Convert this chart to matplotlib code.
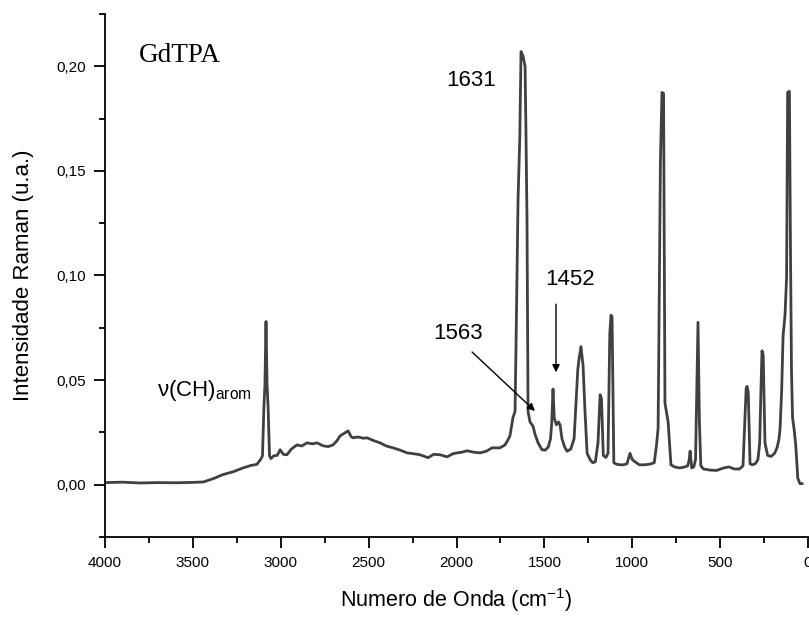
import matplotlib
matplotlib.use("Agg")
import matplotlib.pyplot as plt
from matplotlib.ticker import MultipleLocator, FuncFormatter

plt.rcParams["font.family"] = ["Liberation Sans", "DejaVu Sans"]
plt.rcParams["mathtext.default"] = "regular"

# ---------------------------------------------------------------------------
# Raman spectrum (wavenumber cm-1, intensity a.u.)
# ---------------------------------------------------------------------------
wavenumber = [
    3995, 3900, 3800, 3700, 3600, 3500, 3440, 3380, 3330, 3270, 3215, 3170,
    3136, 3115, 3104, 3096, 3090, 3084, 3078, 3072, 3064, 3056, 3040, 3020,
    3004, 2985, 2965, 2940, 2908, 2880, 2851, 2820, 2794, 2760, 2730, 2703,
    2680, 2663, 2640, 2617, 2600, 2589, 2560, 2530, 2509, 2470, 2435, 2400,
    2361, 2320, 2282, 2245, 2208, 2162, 2130, 2094, 2054, 2020, 1997, 1970,
    1940, 1900, 1866, 1830, 1798, 1753, 1724, 1710, 1696, 1679, 1667, 1660,
    1650, 1640, 1633, 1622, 1610, 1605, 1599, 1593, 1582, 1565, 1553, 1536,
    1514, 1495, 1478, 1465, 1458, 1451, 1444, 1432, 1420, 1411, 1400, 1385,
    1371, 1350, 1331, 1320, 1310, 1303, 1292, 1280, 1269, 1257, 1240, 1225,
    1210, 1195, 1188, 1183, 1175, 1165, 1150, 1138, 1128, 1121, 1115, 1105,
    1090, 1070, 1050, 1030, 1013, 1000, 985, 960, 930, 900, 875, 862,
    853, 840, 831, 822, 814, 806, 796, 780, 760, 730, 700, 685,
    676, 671, 662, 650, 640, 632, 626, 618, 610, 595, 560, 520,
    480, 450, 420, 390, 370, 360, 352, 347, 340, 330, 318, 300,
    285, 275, 268, 262, 255, 245, 230, 210, 190, 175, 165, 159,
    150, 142, 131, 122, 116, 106, 100, 94, 88, 80, 70, 58,
    46, 34,
]
intensity = [
    0.0010, 0.0012, 0.0008, 0.0010, 0.0009, 0.0011, 0.0013, 0.0030, 0.0048, 0.0062, 0.0080, 0.0092,
    0.0097, 0.0120, 0.0138, 0.0370, 0.0480, 0.0780, 0.0480, 0.0370, 0.0138, 0.0125, 0.0138, 0.0140,
    0.0167, 0.0145, 0.0143, 0.0170, 0.0190, 0.0185, 0.0200, 0.0195, 0.0200, 0.0186, 0.0182, 0.0190,
    0.0210, 0.0233, 0.0245, 0.0257, 0.0230, 0.0224, 0.0228, 0.0222, 0.0224, 0.0210, 0.0200, 0.0185,
    0.0176, 0.0165, 0.0152, 0.0148, 0.0143, 0.0129, 0.0145, 0.0143, 0.0133, 0.0148, 0.0152, 0.0155,
    0.0162, 0.0155, 0.0152, 0.0160, 0.0176, 0.0176, 0.0190, 0.0210, 0.0233, 0.0320, 0.0350, 0.0750,
    0.1360, 0.1660, 0.2070, 0.2050, 0.2000, 0.1690, 0.1270, 0.0350, 0.0300, 0.0280, 0.0240, 0.0200,
    0.0167, 0.0165, 0.0180, 0.0220, 0.0300, 0.0457, 0.0320, 0.0286, 0.0300, 0.0286, 0.0220, 0.0180,
    0.0160, 0.0170, 0.0220, 0.0390, 0.0550, 0.0600, 0.0660, 0.0570, 0.0350, 0.0150, 0.0120, 0.0105,
    0.0110, 0.0200, 0.0330, 0.0430, 0.0410, 0.0140, 0.0130, 0.0150, 0.0720, 0.0810, 0.0800, 0.0105,
    0.0098, 0.0095, 0.0095, 0.0100, 0.0150, 0.0120, 0.0110, 0.0095, 0.0095, 0.0098, 0.0105, 0.0190,
    0.0270, 0.1540, 0.1875, 0.1870, 0.0390, 0.0350, 0.0300, 0.0095, 0.0085, 0.0080, 0.0085, 0.0090,
    0.0120, 0.0160, 0.0080, 0.0085, 0.0120, 0.0495, 0.0776, 0.0300, 0.0090, 0.0075, 0.0070, 0.0068,
    0.0080, 0.0085, 0.0075, 0.0075, 0.0090, 0.0300, 0.0460, 0.0470, 0.0440, 0.0100, 0.0095, 0.0100,
    0.0120, 0.0200, 0.0450, 0.0640, 0.0620, 0.0200, 0.0140, 0.0135, 0.0150, 0.0180, 0.0220, 0.0270,
    0.0450, 0.0710, 0.0810, 0.0990, 0.1875, 0.1880, 0.1140, 0.0540, 0.0320, 0.0270, 0.0190, 0.0030,
    0.0005, 0.0005,
]

x_ticks = [4000, 3500, 3000, 2500, 2000, 1500, 1000, 500, 0]

fig = plt.figure(figsize=(8.09, 6.19), dpi=100)
ax = fig.add_axes([0.1298, 0.1325, 0.869, 0.845])

ax.plot(wavenumber, intensity, color="#404040", linewidth=2.0)

ax.set_xlim(4000, 0)
ax.set_ylim(-0.025, 0.225)
ax.set_xticks(x_ticks)
ax.xaxis.set_minor_locator(MultipleLocator(250))
ax.yaxis.set_major_locator(MultipleLocator(0.05))
ax.yaxis.set_minor_locator(MultipleLocator(0.025))
ax.yaxis.set_major_formatter(FuncFormatter(lambda v, p: f"{v:.2f}".replace(".", ",")))

for side in ("top", "right"):
    ax.spines[side].set_visible(False)
for side in ("left", "bottom"):
    ax.spines[side].set_linewidth(1.3)
ax.tick_params(which="major", direction="out", length=8, width=1.3, labelsize=11, pad=6)
ax.tick_params(which="minor", direction="out", length=4.5, width=1.3)

ax.set_xlabel("Numero de Onda (cm$^{-1}$)", fontsize=15.5, labelpad=11)
ax.set_ylabel("Intensidade Raman (u.a.)", fontsize=16, labelpad=16)

ax.text(3807, 0.205, "GdTPA", family="Liberation Serif", fontsize=19.5,
        ha="left", va="center")
ax.text(1918, 0.193, "1631", fontsize=16, ha="center", va="center")
ax.text(3704, 0.0452, "ν(CH)$_{arom}$", fontsize=16, ha="left", va="center")

# peak labels with arrows
ax.text(1992, 0.0724, "1563", fontsize=16, ha="center", va="center")
ax.text(1354, 0.098, "1452", fontsize=16, ha="center", va="center")
arrow = dict(arrowstyle="-|>", color="black", lw=1.0, mutation_scale=11)
ax.annotate("", xy=(1542, 0.0343), xytext=(1923, 0.0643), arrowprops=arrow)
ax.annotate("", xy=(1434, 0.0524), xytext=(1434, 0.0876), arrowprops=arrow)

fig.savefig("out.png", dpi=100)
